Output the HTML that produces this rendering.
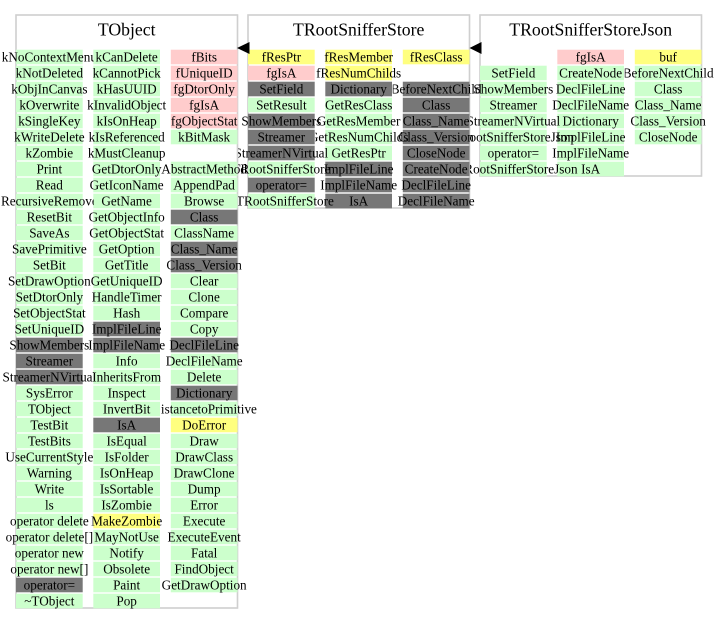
<!DOCTYPE html>
<html><head><meta charset="utf-8"><style>
html,body{margin:0;padding:0;background:#fff;}
svg{display:block;}
.g{fill:#ccffcc}.p{fill:#ffcccc}.y{fill:#ffff7f}.d{fill:#777777}
text{font-family:"Liberation Serif","Times New Roman",serif;fill:#000;}
.t{font-size:13.2px;text-anchor:middle;}
.h{font-size:17.7px;text-anchor:middle;}
</style></head><body>
<svg width="717" height="624" viewBox="0 0 717 624" xmlns="http://www.w3.org/2000/svg">
<defs><clipPath id="c" clipPathUnits="userSpaceOnUse"><rect x="-10" y="0" width="120" height="624"/></clipPath>
<clipPath id="c2" clipPathUnits="userSpaceOnUse"><rect x="-20" y="0" width="97.7" height="624"/></clipPath></defs>
<rect x="0" y="0" width="717" height="624" fill="#fff"/>
<!-- boxes -->
<rect x="16" y="15" width="221.5" height="593" fill="#fff" stroke="#cfcfcf" stroke-width="1.6"/>
<rect x="248" y="15" width="221.5" height="193" fill="#fff" stroke="#cfcfcf" stroke-width="1.6"/>
<rect x="480" y="15" width="221.5" height="161" fill="#fff" stroke="#cfcfcf" stroke-width="1.6"/>
<text class="h" x="126.7" y="35.7">TObject</text>
<text class="h" x="358.7" y="35.7">TRootSnifferStore</text>
<text class="h" x="590.7" y="35.7">TRootSnifferStoreJson</text>

<!-- TRootSnifferStoreJson col1 -->
<g transform="translate(480,0)">
<rect class="g" y="65.7" width="66.7" height="14.6"/>
<rect class="g" y="81.7" width="66.7" height="14.6"/>
<rect class="g" y="97.7" width="66.7" height="14.6"/>
<rect class="g" y="113.7" width="66.7" height="14.6"/>
<rect class="g" y="129.7" width="66.7" height="14.6"/>
<rect class="g" y="145.7" width="66.7" height="14.6"/>
<rect class="g" y="161.7" width="66.7" height="14.6"/>
</g>
<!-- TRootSnifferStoreJson col2 -->
<g transform="translate(557.3,0)">
<rect class="p" y="49.7" width="66.7" height="14.6"/>
<rect class="g" y="65.7" width="66.7" height="14.6"/>
<rect class="g" y="81.7" width="66.7" height="14.6"/>
<rect class="g" y="97.7" width="66.7" height="14.6"/>
<rect class="g" y="113.7" width="66.7" height="14.6"/>
<rect class="g" y="129.7" width="66.7" height="14.6"/>
<rect class="g" y="145.7" width="66.7" height="14.6"/>
<rect class="g" y="161.7" width="66.7" height="14.6"/>
</g>
<!-- TRootSnifferStoreJson col3 -->
<g transform="translate(634.8,0)">
<rect class="y" y="49.7" width="66.7" height="14.6"/>
<rect class="g" y="65.7" width="66.7" height="14.6"/>
<rect class="g" y="81.7" width="66.7" height="14.6"/>
<rect class="g" y="97.7" width="66.7" height="14.6"/>
<rect class="g" y="113.7" width="66.7" height="14.6"/>
<rect class="g" y="129.7" width="66.7" height="14.6"/>
</g>

<!-- TRootSnifferStore col1 -->
<g transform="translate(248,0)">
<rect class="y" y="49.7" width="66.7" height="14.6"/>
<rect class="p" y="65.7" width="66.7" height="14.6"/>
<rect class="d" y="81.7" width="66.7" height="14.6"/>
<rect class="g" y="97.7" width="66.7" height="14.6"/>
<rect class="d" y="113.7" width="66.7" height="14.6"/>
<rect class="d" y="129.7" width="66.7" height="14.6"/>
<rect class="d" y="145.7" width="66.7" height="14.6"/>
<rect class="g" y="161.7" width="66.7" height="14.6"/>
<rect class="d" y="177.7" width="66.7" height="14.6"/>
<rect class="g" y="193.7" width="66.7" height="14.6"/>
</g>
<!-- TRootSnifferStore col2 -->
<g transform="translate(325.3,0)">
<rect class="y" y="49.7" width="66.7" height="14.6"/>
<rect class="y" y="65.7" width="66.7" height="14.6"/>
<rect class="d" y="81.7" width="66.7" height="14.6"/>
<rect class="g" y="97.7" width="66.7" height="14.6"/>
<rect class="g" y="113.7" width="66.7" height="14.6"/>
<rect class="g" y="129.7" width="66.7" height="14.6"/>
<rect class="g" y="145.7" width="66.7" height="14.6"/>
<rect class="d" y="161.7" width="66.7" height="14.6"/>
<rect class="d" y="177.7" width="66.7" height="14.6"/>
<rect class="d" y="193.7" width="66.7" height="14.6"/>
</g>
<!-- TRootSnifferStore col3 -->
<g transform="translate(402.8,0)">
<rect class="y" y="49.7" width="66.7" height="14.6"/>
<rect class="d" y="81.7" width="66.7" height="14.6"/>
<rect class="d" y="97.7" width="66.7" height="14.6"/>
<rect class="d" y="113.7" width="66.7" height="14.6"/>
<rect class="d" y="129.7" width="66.7" height="14.6"/>
<rect class="d" y="145.7" width="66.7" height="14.6"/>
<rect class="d" y="161.7" width="66.7" height="14.6"/>
<rect class="d" y="177.7" width="66.7" height="14.6"/>
<rect class="d" y="193.7" width="66.7" height="14.6"/>
</g>

<!-- TObject col1 -->
<g transform="translate(16,0)">
<rect class="g" y="49.7" width="66.7" height="14.6"/>
<rect class="g" y="65.7" width="66.7" height="14.6"/>
<rect class="g" y="81.7" width="66.7" height="14.6"/>
<rect class="g" y="97.7" width="66.7" height="14.6"/>
<rect class="g" y="113.7" width="66.7" height="14.6"/>
<rect class="g" y="129.7" width="66.7" height="14.6"/>
<rect class="g" y="145.7" width="66.7" height="14.6"/>
<rect class="g" y="161.7" width="66.7" height="14.6"/>
<rect class="g" y="177.7" width="66.7" height="14.6"/>
<rect class="g" y="193.7" width="66.7" height="14.6"/>
<rect class="g" y="209.7" width="66.7" height="14.6"/>
<rect class="g" y="225.7" width="66.7" height="14.6"/>
<rect class="g" y="241.7" width="66.7" height="14.6"/>
<rect class="g" y="257.7" width="66.7" height="14.6"/>
<rect class="g" y="273.7" width="66.7" height="14.6"/>
<rect class="g" y="289.7" width="66.7" height="14.6"/>
<rect class="g" y="305.7" width="66.7" height="14.6"/>
<rect class="g" y="321.7" width="66.7" height="14.6"/>
<rect class="d" y="337.7" width="66.7" height="14.6"/>
<rect class="d" y="353.7" width="66.7" height="14.6"/>
<rect class="d" y="369.7" width="66.7" height="14.6"/>
<rect class="g" y="385.7" width="66.7" height="14.6"/>
<rect class="g" y="401.7" width="66.7" height="14.6"/>
<rect class="g" y="417.7" width="66.7" height="14.6"/>
<rect class="g" y="433.7" width="66.7" height="14.6"/>
<rect class="g" y="449.7" width="66.7" height="14.6"/>
<rect class="g" y="465.7" width="66.7" height="14.6"/>
<rect class="g" y="481.7" width="66.7" height="14.6"/>
<rect class="g" y="497.7" width="66.7" height="14.6"/>
<rect class="g" y="513.7" width="66.7" height="14.6"/>
<rect class="g" y="529.7" width="66.7" height="14.6"/>
<rect class="g" y="545.7" width="66.7" height="14.6"/>
<rect class="g" y="561.7" width="66.7" height="14.6"/>
<rect class="d" y="577.7" width="66.7" height="14.6"/>
<rect class="g" y="593.7" width="66.7" height="14.6"/>
</g>
<!-- TObject col2 -->
<g transform="translate(93.3,0)">
<rect class="g" y="49.7" width="66.7" height="14.6"/>
<rect class="g" y="65.7" width="66.7" height="14.6"/>
<rect class="g" y="81.7" width="66.7" height="14.6"/>
<rect class="g" y="97.7" width="66.7" height="14.6"/>
<rect class="g" y="113.7" width="66.7" height="14.6"/>
<rect class="g" y="129.7" width="66.7" height="14.6"/>
<rect class="g" y="145.7" width="66.7" height="14.6"/>
<rect class="g" y="161.7" width="66.7" height="14.6"/>
<rect class="g" y="177.7" width="66.7" height="14.6"/>
<rect class="g" y="193.7" width="66.7" height="14.6"/>
<rect class="g" y="209.7" width="66.7" height="14.6"/>
<rect class="g" y="225.7" width="66.7" height="14.6"/>
<rect class="g" y="241.7" width="66.7" height="14.6"/>
<rect class="g" y="257.7" width="66.7" height="14.6"/>
<rect class="g" y="273.7" width="66.7" height="14.6"/>
<rect class="g" y="289.7" width="66.7" height="14.6"/>
<rect class="g" y="305.7" width="66.7" height="14.6"/>
<rect class="d" y="321.7" width="66.7" height="14.6"/>
<rect class="d" y="337.7" width="66.7" height="14.6"/>
<rect class="g" y="353.7" width="66.7" height="14.6"/>
<rect class="g" y="369.7" width="66.7" height="14.6"/>
<rect class="g" y="385.7" width="66.7" height="14.6"/>
<rect class="g" y="401.7" width="66.7" height="14.6"/>
<rect class="d" y="417.7" width="66.7" height="14.6"/>
<rect class="g" y="433.7" width="66.7" height="14.6"/>
<rect class="g" y="449.7" width="66.7" height="14.6"/>
<rect class="g" y="465.7" width="66.7" height="14.6"/>
<rect class="g" y="481.7" width="66.7" height="14.6"/>
<rect class="g" y="497.7" width="66.7" height="14.6"/>
<rect class="y" y="513.7" width="66.7" height="14.6"/>
<rect class="g" y="529.7" width="66.7" height="14.6"/>
<rect class="g" y="545.7" width="66.7" height="14.6"/>
<rect class="g" y="561.7" width="66.7" height="14.6"/>
<rect class="g" y="577.7" width="66.7" height="14.6"/>
<rect class="g" y="593.7" width="66.7" height="14.6"/>
</g>
<!-- TObject col3 -->
<g transform="translate(170.8,0)">
<rect class="p" y="49.7" width="66.7" height="14.6"/>
<rect class="p" y="65.7" width="66.7" height="14.6"/>
<rect class="p" y="81.7" width="66.7" height="14.6"/>
<rect class="p" y="97.7" width="66.7" height="14.6"/>
<rect class="p" y="113.7" width="66.7" height="14.6"/>
<rect class="g" y="129.7" width="66.7" height="14.6"/>
<rect class="g" y="161.7" width="66.7" height="14.6"/>
<rect class="g" y="177.7" width="66.7" height="14.6"/>
<rect class="g" y="193.7" width="66.7" height="14.6"/>
<rect class="d" y="209.7" width="66.7" height="14.6"/>
<rect class="g" y="225.7" width="66.7" height="14.6"/>
<rect class="d" y="241.7" width="66.7" height="14.6"/>
<rect class="d" y="257.7" width="66.7" height="14.6"/>
<rect class="g" y="273.7" width="66.7" height="14.6"/>
<rect class="g" y="289.7" width="66.7" height="14.6"/>
<rect class="g" y="305.7" width="66.7" height="14.6"/>
<rect class="g" y="321.7" width="66.7" height="14.6"/>
<rect class="d" y="337.7" width="66.7" height="14.6"/>
<rect class="g" y="353.7" width="66.7" height="14.6"/>
<rect class="g" y="369.7" width="66.7" height="14.6"/>
<rect class="d" y="385.7" width="66.7" height="14.6"/>
<rect class="g" y="401.7" width="66.7" height="14.6"/>
<rect class="y" y="417.7" width="66.7" height="14.6"/>
<rect class="g" y="433.7" width="66.7" height="14.6"/>
<rect class="g" y="449.7" width="66.7" height="14.6"/>
<rect class="g" y="465.7" width="66.7" height="14.6"/>
<rect class="g" y="481.7" width="66.7" height="14.6"/>
<rect class="g" y="497.7" width="66.7" height="14.6"/>
<rect class="g" y="513.7" width="66.7" height="14.6"/>
<rect class="g" y="529.7" width="66.7" height="14.6"/>
<rect class="g" y="545.7" width="66.7" height="14.6"/>
<rect class="g" y="561.7" width="66.7" height="14.6"/>
<rect class="g" y="577.7" width="66.7" height="14.6"/>
</g>

<!-- texts -->
<g transform="translate(480,0)"><g clip-path="url(#c)" class="t">
<text x="33.35" y="77.5">SetField</text>
<text x="33.35" y="93.5">ShowMembers</text>
<text x="33.35" y="109.5">Streamer</text>
<text x="33.35" y="125.5">StreamerNVirtual</text>
<text x="33.35" y="141.5">TRootSnifferStoreJson</text>
<text x="33.35" y="157.5">operator=</text>
<text x="33.35" y="173.5">~TRootSnifferStoreJson</text>
</g></g>
<g transform="translate(557.3,0)"><g clip-path="url(#c)" class="t">
<text x="33.35" y="61.5">fgIsA</text>
<text x="33.35" y="77.5">CreateNode</text>
<text x="33.35" y="93.5">DeclFileLine</text>
<text x="33.35" y="109.5">DeclFileName</text>
<text x="33.35" y="125.5">Dictionary</text>
<text x="33.35" y="141.5">ImplFileLine</text>
<text x="33.35" y="157.5">ImplFileName</text>
<text x="33.35" y="173.5">IsA</text>
</g></g>
<g transform="translate(634.8,0)"><g clip-path="url(#c)" class="t">
<text x="33.35" y="61.5">buf</text>
<text x="33.35" y="77.5">BeforeNextChild</text>
<text x="33.35" y="93.5">Class</text>
<text x="33.35" y="109.5">Class_Name</text>
<text x="33.35" y="125.5">Class_Version</text>
<text x="33.35" y="141.5">CloseNode</text>
</g></g>

<g transform="translate(248,0)"><g clip-path="url(#c)" class="t">
<text x="33.35" y="61.5">fResPtr</text>
<text x="33.35" y="77.5">fgIsA</text>
<text x="33.35" y="93.5">SetField</text>
<text x="33.35" y="109.5">SetResult</text>
<text x="33.35" y="125.5">ShowMembers</text>
<text x="33.35" y="141.5">Streamer</text>
<text x="33.35" y="157.5">StreamerNVirtual</text>
<text x="33.35" y="173.5">TRootSnifferStore</text>
<text x="33.35" y="189.5">operator=</text>
<text x="33.35" y="205.5">~TRootSnifferStore</text>
</g></g>
<g transform="translate(325.3,0)"><g clip-path="url(#c)" class="t">
<text x="33.35" y="61.5">fResMember</text>
<text x="33.35" y="77.5">fResNumChilds</text>
<text x="33.35" y="93.5">Dictionary</text>
<text x="33.35" y="109.5">GetResClass</text>
<text x="33.35" y="125.5">GetResMember</text>
<text x="33.35" y="141.5">GetResNumChilds</text>
<text x="33.35" y="157.5">GetResPtr</text>
<text x="33.35" y="173.5">ImplFileLine</text>
<text x="33.35" y="189.5">ImplFileName</text>
<text x="33.35" y="205.5">IsA</text>
</g></g>
<g transform="translate(402.8,0)"><g clip-path="url(#c)" class="t">
<text x="33.35" y="61.5">fResClass</text>
<text x="33.35" y="93.5">BeforeNextChild</text>
<text x="33.35" y="109.5">Class</text>
<text x="33.35" y="125.5">Class_Name</text>
<text x="33.35" y="141.5">Class_Version</text>
<text x="33.35" y="157.5">CloseNode</text>
<text x="33.35" y="173.5">CreateNode</text>
<text x="33.35" y="189.5">DeclFileLine</text>
<text x="33.35" y="205.5">DeclFileName</text>
</g></g>

<g transform="translate(16,0)"><g clip-path="url(#c2)" class="t">
<text x="33.35" y="61.5">kNoContextMenu</text>
<text x="33.35" y="77.5">kNotDeleted</text>
<text x="33.35" y="93.5">kObjInCanvas</text>
<text x="33.35" y="109.5">kOverwrite</text>
<text x="33.35" y="125.5">kSingleKey</text>
<text x="33.35" y="141.5">kWriteDelete</text>
<text x="33.35" y="157.5">kZombie</text>
<text x="33.35" y="173.5">Print</text>
<text x="33.35" y="189.5">Read</text>
<text x="33.35" y="205.5">RecursiveRemove</text>
<text x="33.35" y="221.5">ResetBit</text>
<text x="33.35" y="237.5">SaveAs</text>
<text x="33.35" y="253.5">SavePrimitive</text>
<text x="33.35" y="269.5">SetBit</text>
<text x="33.35" y="285.5">SetDrawOption</text>
<text x="33.35" y="301.5">SetDtorOnly</text>
<text x="33.35" y="317.5">SetObjectStat</text>
<text x="33.35" y="333.5">SetUniqueID</text>
<text x="33.35" y="349.5">ShowMembers</text>
<text x="33.35" y="365.5">Streamer</text>
<text x="33.35" y="381.5">StreamerNVirtual</text>
<text x="33.35" y="397.5">SysError</text>
<text x="33.35" y="413.5">TObject</text>
<text x="33.35" y="429.5">TestBit</text>
<text x="33.35" y="445.5">TestBits</text>
<text x="33.35" y="461.5">UseCurrentStyle</text>
<text x="33.35" y="477.5">Warning</text>
<text x="33.35" y="493.5">Write</text>
<text x="33.35" y="509.5">ls</text>
<text x="33.35" y="525.5">operator delete</text>
<text x="33.35" y="541.5">operator delete[]</text>
<text x="33.35" y="557.5">operator new</text>
<text x="33.35" y="573.5">operator new[]</text>
<text x="33.35" y="589.5">operator=</text>
<text x="33.35" y="605.5">~TObject</text>
</g></g>
<g transform="translate(93.3,0)"><g clip-path="url(#c)" class="t">
<text x="33.35" y="61.5">kCanDelete</text>
<text x="33.35" y="77.5">kCannotPick</text>
<text x="33.35" y="93.5">kHasUUID</text>
<text x="33.35" y="109.5">kInvalidObject</text>
<text x="33.35" y="125.5">kIsOnHeap</text>
<text x="33.35" y="141.5">kIsReferenced</text>
<text x="33.35" y="157.5">kMustCleanup</text>
<text x="33.35" y="173.5">GetDtorOnly</text>
<text x="33.35" y="189.5">GetIconName</text>
<text x="33.35" y="205.5">GetName</text>
<text x="33.35" y="221.5">GetObjectInfo</text>
<text x="33.35" y="237.5">GetObjectStat</text>
<text x="33.35" y="253.5">GetOption</text>
<text x="33.35" y="269.5">GetTitle</text>
<text x="33.35" y="285.5">GetUniqueID</text>
<text x="33.35" y="301.5">HandleTimer</text>
<text x="33.35" y="317.5">Hash</text>
<text x="33.35" y="333.5">ImplFileLine</text>
<text x="33.35" y="349.5">ImplFileName</text>
<text x="33.35" y="365.5">Info</text>
<text x="33.35" y="381.5">InheritsFrom</text>
<text x="33.35" y="397.5">Inspect</text>
<text x="33.35" y="413.5">InvertBit</text>
<text x="33.35" y="429.5">IsA</text>
<text x="33.35" y="445.5">IsEqual</text>
<text x="33.35" y="461.5">IsFolder</text>
<text x="33.35" y="477.5">IsOnHeap</text>
<text x="33.35" y="493.5">IsSortable</text>
<text x="33.35" y="509.5">IsZombie</text>
<text x="33.35" y="525.5">MakeZombie</text>
<text x="33.35" y="541.5">MayNotUse</text>
<text x="33.35" y="557.5">Notify</text>
<text x="33.35" y="573.5">Obsolete</text>
<text x="33.35" y="589.5">Paint</text>
<text x="33.35" y="605.5">Pop</text>
</g></g>
<g transform="translate(170.8,0)"><g clip-path="url(#c)" class="t">
<text x="33.35" y="61.5">fBits</text>
<text x="33.35" y="77.5">fUniqueID</text>
<text x="33.35" y="93.5">fgDtorOnly</text>
<text x="33.35" y="109.5">fgIsA</text>
<text x="33.35" y="125.5">fgObjectStat</text>
<text x="33.35" y="141.5">kBitMask</text>
<text x="33.35" y="173.5">AbstractMethod</text>
<text x="33.35" y="189.5">AppendPad</text>
<text x="33.35" y="205.5">Browse</text>
<text x="33.35" y="221.5">Class</text>
<text x="33.35" y="237.5">ClassName</text>
<text x="33.35" y="253.5">Class_Name</text>
<text x="33.35" y="269.5">Class_Version</text>
<text x="33.35" y="285.5">Clear</text>
<text x="33.35" y="301.5">Clone</text>
<text x="33.35" y="317.5">Compare</text>
<text x="33.35" y="333.5">Copy</text>
<text x="33.35" y="349.5">DeclFileLine</text>
<text x="33.35" y="365.5">DeclFileName</text>
<text x="33.35" y="381.5">Delete</text>
<text x="33.35" y="397.5">Dictionary</text>
<text x="33.35" y="413.5">DistancetoPrimitive</text>
<text x="33.35" y="429.5">DoError</text>
<text x="33.35" y="445.5">Draw</text>
<text x="33.35" y="461.5">DrawClass</text>
<text x="33.35" y="477.5">DrawClone</text>
<text x="33.35" y="493.5">Dump</text>
<text x="33.35" y="509.5">Error</text>
<text x="33.35" y="525.5">Execute</text>
<text x="33.35" y="541.5">ExecuteEvent</text>
<text x="33.35" y="557.5">Fatal</text>
<text x="33.35" y="573.5">FindObject</text>
<text x="33.35" y="589.5">GetDrawOption</text>
</g></g>

<!-- arrows -->
<polygon points="237,48 249.5,42 249.5,54" fill="#000"/>
<polygon points="469.5,48 481.5,42 481.5,54" fill="#000"/>
</svg>
</body></html>
